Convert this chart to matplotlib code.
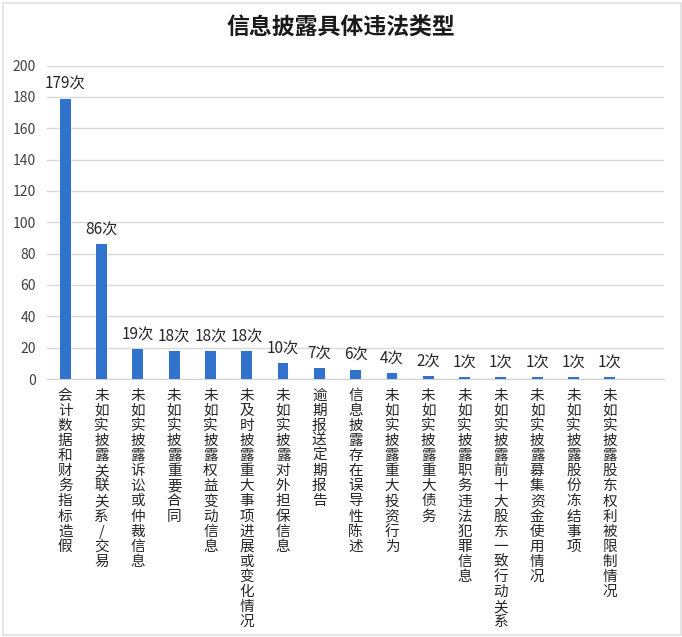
import matplotlib
matplotlib.use('Agg')
import matplotlib.pyplot as plt
from matplotlib.patches import Rectangle

plt.rcParams['font.family'] = ['Noto Sans CJK SC', 'DejaVu Sans']

categories = ['会计数据和财务指标造假', '未如实披露关联关系/交易', '未如实披露诉讼或仲裁信息',
              '未如实披露重要合同', '未如实披露权益变动信息', '未及时披露重大事项进展或变化情况',
              '未如实披露对外担保信息', '逾期报送定期报告', '信息披露存在误导性陈述',
              '未如实披露重大投资行为', '未如实披露重大债务', '未如实披露职务违法犯罪信息',
              '未如实披露前十大股东一致行动关系', '未如实披露募集资金使用情况',
              '未如实披露股份冻结事项', '未如实披露股东权利被限制情况']
counts = [179, 86, 19, 18, 18, 18, 10, 7, 6, 4, 2, 1, 1, 1, 1, 1]
yticks = [0, 20, 40, 60, 80, 100, 120, 140, 160, 180, 200]

fig = plt.figure(figsize=(6.82, 6.37), dpi=100)
ax = fig.add_axes([0.069, 0.405, 0.905, 0.492])

x = list(range(len(categories)))
ax.bar(x, counts, width=0.3, color='#3172CC', zorder=3)

# Excel leaves room for one more (empty) category on the right
ax.set_xlim(-0.5, len(categories) + 0.5)
ax.set_ylim(0, 200)
ax.set_yticks(yticks)
ax.grid(axis='y', color='#d9d9d9', lw=1, zorder=0)
for s in ['top', 'right', 'left']:
    ax.spines[s].set_visible(False)
ax.spines['bottom'].set_color('#d0d0d0')
ax.tick_params(axis='y', length=0, pad=8, labelsize=10, labelcolor='#404040')
ax.tick_params(axis='x', length=0, labelbottom=False)

for i, v in enumerate(counts):
    ax.annotate(f'{v}次', (i, v), xytext=(0, 4), textcoords='offset points',
                ha='center', va='bottom', fontsize=11, color='#262626')
    ax.annotate('\n'.join(categories[i]), (i, 0), xytext=(0, -7), textcoords='offset points',
                ha='center', va='top', fontsize=10.5, color='#262626', linespacing=1.1)

fig.text(0.5, 0.956, '信息披露具体违法类型', ha='center', va='center',
         fontsize=16.5, fontweight='bold', color='#1a1a1a')

fig.patches.append(Rectangle((0.004, 0.003), 0.994, 0.993, transform=fig.transFigure,
                             fill=False, edgecolor='#e0e0e0', lw=1.2))

fig.savefig('out.png', dpi=100)
